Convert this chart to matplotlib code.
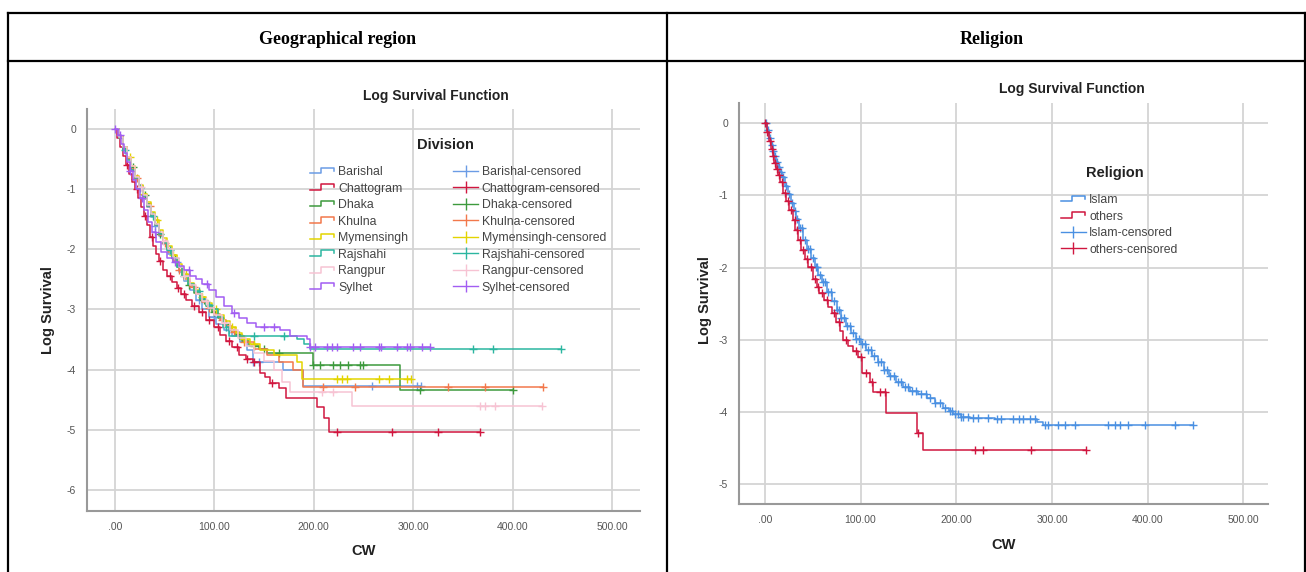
import numpy as np
import matplotlib
matplotlib.use('Agg')
import matplotlib.pyplot as plt
from matplotlib.lines import Line2D
from matplotlib.legend_handler import HandlerBase

plt.rcParams['font.family'] = ['Liberation Sans', 'DejaVu Sans']

# ---- data ----
div_names = ["Barishal", "Chattogram", "Dhaka", "Khulna", "Mymensingh", "Rajshahi", "Rangpur", "Sylhet"]
div_colors = ["#6b9ce5", "#d1163f", "#3d9a3d", "#f2784b", "#e3d400", "#2bb6a0", "#f7c3d3", "#a25df2"]

barishal_x = [0, 4, 8, 12, 16, 20, 24, 28, 32, 36, 40, 44, 48, 53, 58, 64, 70, 76, 82, 88, 95, 102, 110, 118, 126, 133, 139, 169, 189]
barishal_y = [0, -0.15, -0.32, -0.5, -0.68, -0.84, -1.0, -1.15, -1.3, -1.46, -1.62, -1.78, -1.92, -2.08, -2.22, -2.38, -2.52, -2.68, -2.85, -3.0, -3.12, -3.25, -3.35, -3.45, -3.55, -3.68, -3.87, -4.0, -4.27]
barishal_end = 308
barishal_cens = [20, 40, 62, 85, 100, 115, 139, 145, 259, 304, 308]

chatt_x = [0, 2, 5, 8, 11, 14, 17, 20, 23, 26, 29, 32, 35, 38, 41, 44, 48, 52, 57, 62, 67, 72, 78, 85, 92, 100, 106, 112, 118, 125, 132, 139, 146, 151, 156, 165, 172, 203, 210, 215]
chatt_y = [0, -0.15, -0.3, -0.45, -0.6, -0.75, -0.88, -1.0, -1.15, -1.3, -1.45, -1.6, -1.8, -1.95, -2.08, -2.2, -2.35, -2.45, -2.55, -2.65, -2.75, -2.85, -2.95, -3.05, -3.18, -3.3, -3.42, -3.52, -3.62, -3.75, -3.82, -3.88, -4.05, -4.12, -4.22, -4.3, -4.48, -4.62, -4.8, -5.04]
chatt_end = 367
chatt_cens = [12, 22, 30, 37, 45, 55, 63, 70, 80, 88, 95, 104, 115, 123, 133, 140, 158, 223, 279, 325, 367]

dhaka_x = [0, 4, 8, 12, 16, 20, 24, 28, 32, 36, 40, 44, 48, 52, 57, 62, 68, 74, 80, 86, 92, 98, 104, 110, 116, 122, 128, 135, 145, 153, 199, 287]
dhaka_y = [0, -0.12, -0.3, -0.48, -0.64, -0.8, -0.95, -1.1, -1.25, -1.42, -1.58, -1.74, -1.88, -2.0, -2.15, -2.3, -2.45, -2.6, -2.72, -2.85, -2.95, -3.05, -3.15, -3.25, -3.35, -3.42, -3.52, -3.6, -3.65, -3.72, -3.92, -4.34]
dhaka_end = 400
dhaka_cens = [18, 30, 45, 60, 75, 90, 100, 112, 125, 140, 150, 165, 199, 206, 219, 226, 234, 246, 249, 307, 400]

khulna_x = [0, 4, 8, 12, 16, 20, 24, 28, 32, 36, 40, 44, 48, 53, 58, 64, 70, 76, 82, 88, 94, 100, 106, 112, 118, 124, 130, 140, 153, 165, 179, 189]
khulna_y = [0, -0.15, -0.32, -0.5, -0.66, -0.82, -0.98, -1.12, -1.28, -1.44, -1.6, -1.76, -1.9, -2.05, -2.2, -2.35, -2.5, -2.62, -2.75, -2.88, -2.98, -3.08, -3.18, -3.28, -3.38, -3.45, -3.55, -3.65, -3.75, -3.88, -4.0, -4.29]
khulna_end = 430
khulna_cens = [22, 35, 50, 65, 80, 95, 108, 120, 130, 209, 241, 335, 372, 430]

mymen_x = [0, 4, 8, 12, 16, 20, 24, 28, 32, 36, 40, 44, 48, 52, 57, 62, 68, 74, 80, 86, 92, 98, 104, 110, 116, 122, 128, 136, 146, 160, 183, 188]
mymen_y = [0, -0.13, -0.3, -0.46, -0.62, -0.78, -0.94, -1.08, -1.22, -1.38, -1.52, -1.68, -1.82, -1.95, -2.1, -2.25, -2.42, -2.56, -2.68, -2.8, -2.9, -3.0, -3.1, -3.2, -3.3, -3.4, -3.5, -3.58, -3.67, -3.75, -3.87, -4.15]
mymen_end = 298
mymen_cens = [15, 28, 42, 58, 72, 88, 102, 118, 130, 140, 223, 228, 233, 266, 276, 294, 298]

rajs_x = [0, 4, 8, 12, 16, 20, 24, 28, 32, 36, 40, 44, 48, 52, 57, 62, 68, 74, 80, 86, 92, 98, 104, 109, 115, 183, 190, 196]
rajs_y = [0, -0.15, -0.35, -0.52, -0.68, -0.82, -0.98, -1.12, -1.28, -1.45, -1.6, -1.75, -1.9, -2.02, -2.15, -2.3, -2.45, -2.58, -2.7, -2.82, -2.92, -3.0, -3.12, -3.3, -3.45, -3.5, -3.58, -3.65]
rajs_end = 449
rajs_cens = [10, 25, 38, 55, 70, 85, 95, 112, 140, 170, 360, 380, 449]

rang_x = [0, 4, 8, 12, 16, 20, 24, 28, 32, 36, 40, 44, 48, 53, 58, 64, 70, 76, 82, 88, 94, 100, 108, 116, 124, 132, 140, 150, 160, 168, 176, 238]
rang_y = [0, -0.14, -0.3, -0.46, -0.62, -0.8, -0.96, -1.1, -1.26, -1.42, -1.58, -1.72, -1.86, -2.0, -2.15, -2.3, -2.45, -2.6, -2.74, -2.86, -2.98, -3.1, -3.22, -3.35, -3.48, -3.6, -3.72, -3.85, -4.0, -4.2, -4.37, -4.6]
rang_end = 429
rang_cens = [26, 48, 70, 92, 110, 208, 219, 367, 372, 382, 429]

sylh_x = [0, 3, 6, 9, 12, 15, 18, 21, 25, 29, 33, 37, 41, 46, 52, 58, 64, 70, 76, 82, 88, 95, 102, 110, 118, 125, 133, 142, 166, 176, 193, 196]
sylh_y = [0, -0.1, -0.25, -0.4, -0.55, -0.7, -0.85, -1.0, -1.15, -1.35, -1.55, -1.72, -1.88, -2.05, -2.15, -2.22, -2.28, -2.35, -2.45, -2.5, -2.58, -2.68, -2.8, -2.95, -3.06, -3.15, -3.22, -3.29, -3.35, -3.45, -3.5, -3.63]
sylh_end = 317
sylh_cens = [0, 5, 15, 27, 40, 60, 75, 93, 120, 150, 160, 196, 201, 213, 218, 223, 239, 246, 266, 268, 284, 294, 297, 309, 317]

rel_names = ["Islam", "others"]
rel_colors = ["#4a90e2", "#d0163f"]

islam_x = [0, 2, 4, 6, 8, 10, 12, 14, 16, 18, 21, 24, 27, 30, 33, 36, 40, 44, 48, 52, 56, 60, 65, 70, 75, 80, 85, 90, 95, 100, 106, 112, 118, 124, 130, 137, 144, 152, 160, 169, 178, 186, 192, 197, 205, 214, 240, 284, 291]
islam_y = [0, -0.1, -0.2, -0.3, -0.38, -0.45, -0.53, -0.6, -0.68, -0.75, -0.87, -0.98, -1.1, -1.22, -1.33, -1.45, -1.62, -1.74, -1.87, -1.99, -2.1, -2.2, -2.33, -2.46, -2.58, -2.7, -2.8, -2.9, -2.98, -3.05, -3.14, -3.22, -3.3, -3.42, -3.5, -3.58, -3.65, -3.7, -3.75, -3.8, -3.87, -3.94, -3.98, -4.02, -4.06, -4.08, -4.1, -4.13, -4.17]
islam_end = 447
islam_cens = [1, 3, 5, 7, 9, 11, 13, 15, 17, 19, 22, 25, 28, 31, 34, 37, 39, 42, 45, 47, 50, 53, 55, 58, 61, 63, 66, 69, 72, 75, 77, 80, 83, 86, 89, 92, 95, 98, 102, 105, 108, 111, 114, 118, 121, 124, 128, 131, 135, 139, 142, 146, 150, 154, 158, 163, 168, 173, 178, 183, 188, 193, 196, 199, 202, 205, 207, 212, 217, 223, 233, 242, 247, 259, 266, 270, 277, 282, 293, 296, 306, 314, 324, 358, 366, 371, 379, 397, 428, 447]

others_x = [0, 2, 4, 6, 8, 10, 12, 14, 16, 19, 22, 25, 29, 32, 35, 38, 42, 45, 50, 54, 57, 62, 66, 70, 74, 78, 82, 87, 92, 97, 102, 110, 113, 127, 159, 165]
others_y = [0, -0.12, -0.25, -0.35, -0.45, -0.55, -0.64, -0.72, -0.82, -0.97, -1.08, -1.2, -1.34, -1.48, -1.62, -1.75, -1.88, -1.99, -2.15, -2.27, -2.35, -2.45, -2.55, -2.63, -2.75, -2.88, -3.0, -3.08, -3.15, -3.23, -3.46, -3.58, -3.72, -4.01, -4.29, -4.52]
others_end = 336
others_cens = [0, 2, 5, 7, 9, 11, 13, 15, 18, 21, 24, 27, 31, 34, 37, 40, 44, 48, 52, 56, 60, 65, 72, 77, 85, 95, 100, 106, 112, 120, 126, 160, 220, 228, 278, 335]

x_ticks = [0, 100, 200, 300, 400, 500]
x_ticklabels = [".00", "100.00", "200.00", "300.00", "400.00", "500.00"]
left_yticks = [0, -1, -2, -3, -4, -5, -6]
right_yticks = [0, -1, -2, -3, -4, -5]

div_series = [
    (barishal_x, barishal_y, barishal_end, barishal_cens),
    (chatt_x, chatt_y, chatt_end, chatt_cens),
    (dhaka_x, dhaka_y, dhaka_end, dhaka_cens),
    (khulna_x, khulna_y, khulna_end, khulna_cens),
    (mymen_x, mymen_y, mymen_end, mymen_cens),
    (rajs_x, rajs_y, rajs_end, rajs_cens),
    (rang_x, rang_y, rang_end, rang_cens),
    (sylh_x, sylh_y, sylh_end, sylh_cens),
]
rel_series = [
    (islam_x, islam_y, islam_end, islam_cens),
    (others_x, others_y, others_end, others_cens),
]

W, H = 1306, 572
fig = plt.figure(figsize=(W / 100, H / 100), dpi=100)


def fx(px):
    return px / W


def fy(py):
    return 1 - py / H


class StepHandler(HandlerBase):
    # SPSS style step icon for the survival lines
    def create_artists(self, legend, orig_handle, xdescent, ydescent, width, height, fontsize, trans):
        x0, y0 = -xdescent, -ydescent
        xs = [x0, x0 + 0.45 * width, x0 + 0.45 * width, x0 + 0.97 * width, x0 + 0.97 * width]
        ys = [y0 + 0.2 * height, y0 + 0.2 * height, y0 + 0.85 * height, y0 + 0.85 * height, y0 + 0.5 * height]
        ln = Line2D(xs, ys, color=orig_handle.get_color(), lw=orig_handle.get_linewidth(), transform=trans)
        return [ln]


def draw_km(ax, series, names, colors):
    steps, cens = [], []
    for (xs, ys, end, cx), name, c in zip(series, names, colors):
        xx = list(xs) + [end]
        yy = list(ys) + [ys[-1]]
        ln, = ax.step(xx, yy, where='post', color=c, lw=1.1, label=name)
        idx = np.searchsorted(np.array(xs), np.array(cx), side='right') - 1
        cy = np.array(ys)[idx]
        ax.plot(cx, cy, linestyle='none', marker='+', markersize=6, mew=1.0, color=c)
        steps.append(ln)
        cens.append(Line2D([0], [0], color=c, lw=1.0, marker='|', markersize=9, mew=1.0))
    return steps, cens


def style_axes(ax, yticks, xlim, ylim):
    ax.set_xlim(*xlim)
    ax.set_ylim(*ylim)
    ax.set_xticks(x_ticks)
    ax.set_xticklabels(x_ticklabels)
    ax.set_yticks(yticks)
    ax.set_yticklabels([str(v) for v in yticks])
    ax.grid(True, color='#d4d4d4', lw=1.3)
    ax.set_axisbelow(True)
    for s in ['top', 'right']:
        ax.spines[s].set_visible(False)
    for s in ['left', 'bottom']:
        ax.spines[s].set_color('#999999')
        ax.spines[s].set_linewidth(1.5)
    ax.tick_params(length=0, labelsize=7.5, labelcolor='#555555', pad=8)


leg_kw = dict(frameon=False, fontsize=8.8, loc='upper left', bbox_transform=fig.transFigure,
              handlelength=2.0, handletextpad=0.3, labelspacing=0.37, borderpad=0.0,
              labelcolor='#444444')

# ---- left chart ----
ax1 = fig.add_axes([fx(87), fy(511), fx(640) - fx(87), fy(109) - fy(511)])
steps1, cens1 = draw_km(ax1, div_series, div_names, div_colors)
style_axes(ax1, left_yticks, (-28, 528), (-6.35, 0.33))
hm = {h: StepHandler() for h in steps1}
ax1.legend(steps1 + cens1, div_names + [n + "-censored" for n in div_names],
           ncol=2, handler_map=hm, bbox_to_anchor=(fx(304), fy(160)),
           columnspacing=3.7, **leg_kw)
fig.text(fx(445), fy(145), "Division", ha='center', va='center', fontsize=10.5, fontweight='bold', color='#222222')
fig.text(fx(436), fy(96), "Log Survival Function", ha='center', va='center', fontsize=10, fontweight='bold', color='#222222')
fig.text(fx(364), fy(551), "CW", ha='center', va='center', fontsize=10.5, fontweight='bold', color='#222222')
fig.text(fx(48), fy(310), "Log Survival", ha='center', va='center', rotation=90, fontsize=10.5, fontweight='bold', color='#222222')

# ---- right chart ----
ax2 = fig.add_axes([fx(739), fy(504), fx(1268) - fx(739), fy(103) - fy(504)])
steps2, cens2 = draw_km(ax2, rel_series, rel_names, rel_colors)
style_axes(ax2, right_yticks, (-27, 525.6), (-5.27, 0.28))
hm2 = {h: StepHandler() for h in steps2}
ax2.legend(steps2 + cens2, rel_names + [n + "-censored" for n in rel_names],
           handler_map=hm2, bbox_to_anchor=(fx(1055), fy(188)), **leg_kw)
fig.text(fx(1115), fy(173), "Religion", ha='center', va='center', fontsize=10.5, fontweight='bold', color='#222222')
fig.text(fx(1072), fy(89), "Log Survival Function", ha='center', va='center', fontsize=10, fontweight='bold', color='#222222')
fig.text(fx(1004), fy(545), "CW", ha='center', va='center', fontsize=10.5, fontweight='bold', color='#222222')
fig.text(fx(705), fy(300), "Log Survival", ha='center', va='center', rotation=90, fontsize=10.5, fontweight='bold', color='#222222')

# ---- table frame and headers ----
lkw = dict(color='black', lw=1.6, transform=fig.transFigure)
fig.add_artist(Line2D([fx(8), fx(1305)], [fy(13), fy(13)], **lkw))
fig.add_artist(Line2D([fx(8), fx(1305)], [fy(61), fy(61)], **lkw))
fig.add_artist(Line2D([fx(8), fx(8)], [fy(13), fy(572)], **lkw))
fig.add_artist(Line2D([fx(667), fx(667)], [fy(13), fy(572)], **lkw))
fig.add_artist(Line2D([fx(1305), fx(1305)], [fy(13), fy(572)], **lkw))
fig.text(fx(338), fy(39), "Geographical region", ha='center', va='center', fontsize=13,
         fontweight='bold', family=['Liberation Serif', 'DejaVu Serif'])
fig.text(fx(992), fy(39), "Religion", ha='center', va='center', fontsize=13,
         fontweight='bold', family=['Liberation Serif', 'DejaVu Serif'])

fig.savefig("out.png", dpi=100)
